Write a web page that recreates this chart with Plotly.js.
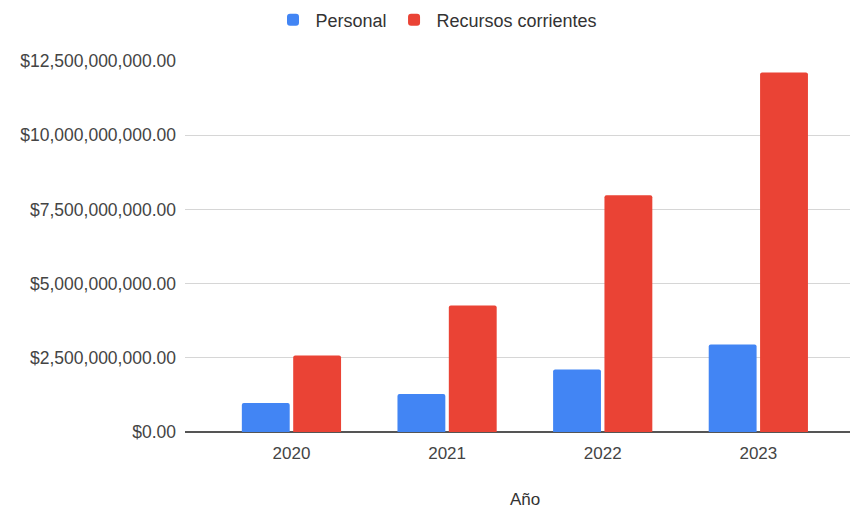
<!DOCTYPE html>
<html><head><meta charset="utf-8">
<script src="https://cdn.plot.ly/plotly-3.0.1.min.js"></script>
<style>body{margin:0;background:#fff}#c{width:853px;height:509px}</style>
</head><body><div id="c"></div>
<script>
const years = ['2020','2021','2022','2023'];
const personal = [0.98e9, 1.28e9, 2.11e9, 2.95e9];
const recursos = [2.58e9, 4.26e9, 7.98e9, 12.11e9];
const yTicks = [0, 2.5e9, 5e9, 7.5e9, 10e9, 12.5e9];

const data = [
  {type:'bar', name:'Personal', x:years, y:personal, marker:{color:'#4285f4', cornerradius:2}},
  {type:'bar', name:'Recursos corrientes', x:years, y:recursos, marker:{color:'#ea4335', cornerradius:2}}
];
const L = 185, R = 850, T = 60, B = 432;
const layout = {
  width:853, height:509,
  margin:{l:L, r:853-R, t:T, b:509-B},
  paper_bgcolor:'#fff', plot_bgcolor:'#fff',
  font:{family:'Liberation Sans, Arial, sans-serif', size:17, color:'#444'},
  barmode:'group', bargap:0.34, bargroupgap:0.068,
  showlegend:true,
  legend:{orientation:'h', x:(270.5-L)/(R-L), xanchor:'left', y:1+(T-20)/(B-T), yanchor:'middle',
          font:{size:18, color:'#333'}, itemgap:26, itemwidth:35},
  xaxis:{type:'category', range:[-0.684, 3.589], showgrid:false, zeroline:false, showline:false, ticks:'',
         ticklabelstandoff:9, tickfont:{size:17, color:'#444'}},
  yaxis:{range:[0, 12.5e9], tickvals:yTicks, tickformat:'$,.2f', gridcolor:'#d6d6d6', gridwidth:1,
         zeroline:true, zerolinecolor:'#555', zerolinewidth:1.5, showline:false, ticks:'', ticklabelstandoff:8,
         tickfont:{size:17.5, color:'#444'}},
  annotations:[{text:'Año', xref:'paper', yref:'paper', x:(525-L)/(R-L), y:-(500-B)/(B-T), xanchor:'center', yanchor:'middle',
                showarrow:false, font:{size:17, color:'#333'}}]
};
Plotly.newPlot('c', data, layout, {displayModeBar:false, staticPlot:true});
</script></body></html>
